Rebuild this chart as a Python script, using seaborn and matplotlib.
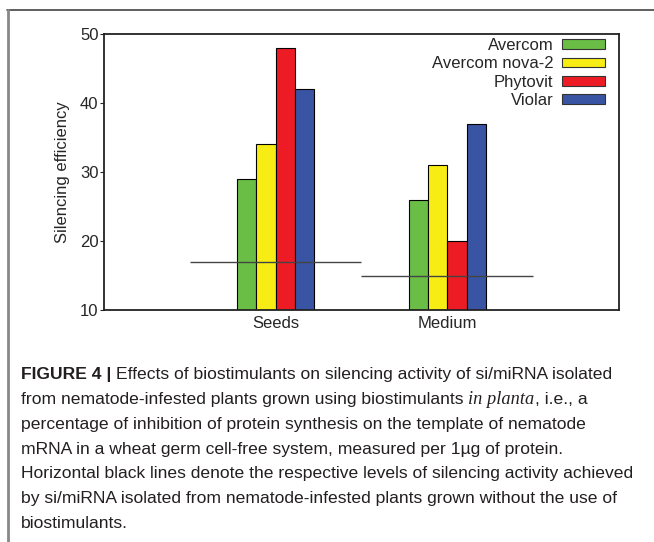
import pandas as pd
import matplotlib
matplotlib.use("Agg")
import matplotlib.pyplot as plt
import matplotlib.patches as mpatches
from matplotlib.lines import Line2D
import seaborn as sns

# data
groups = ["Seeds", "Medium"]
products = ["Avercom", "Avercom nova-2", "Phytovit", "Violar"]
avercom = [29, 26]
avercom_nova2 = [34, 31]
phytovit = [48, 20]
violar = [42, 37]
control_levels = [17, 15]   # silencing without biostimulants
colors = ["#6abd45", "#f7ec13", "#ed1c24", "#3a54a4"]

caption_lines = [
    [("FIGURE 4 | ", "bold"), ("Effects of biostimulants on silencing activity of si/miRNA isolated", "normal")],
    [("from nematode-infested plants grown using biostimulants ", "normal"), ("in planta", "italic"), (", i.e., a", "normal")],
    [("percentage of inhibition of protein synthesis on the template of nematode", "normal")],
    [("mRNA in a wheat germ cell-free system, measured per 1\u00b5g of protein.", "normal")],
    [("Horizontal black lines denote the respective levels of silencing activity achieved", "normal")],
    [("by si/miRNA isolated from nematode-infested plants grown without the use of", "normal")],
    [("biostimulants.", "normal")],
]

sns.set_style("white")
plt.rcParams["font.family"] = ["Liberation Sans", "DejaVu Sans"]

df = pd.DataFrame({
    "group": groups * 4,
    "product": [p for p in products for _ in groups],
    "value": avercom + avercom_nova2 + phytovit + violar,
})

fig = plt.figure(figsize=(6.54, 5.42), dpi=100)
ax = fig.add_axes([104 / 654, 1 - 310 / 542, 515 / 654, 276 / 542])

sns.barplot(data=df, x="group", y="value", hue="product", hue_order=products,
            order=groups, palette=colors, width=0.45, edgecolor="black",
            linewidth=0.8, saturation=1, legend=False, ax=ax)

# control levels as horizontal lines across each group
for i, lvl in enumerate(control_levels):
    ax.hlines(lvl, i - 0.5, i + 0.5, color="#444444", linewidth=1.0, zorder=5)

ax.set_xlim(-1, 2)
ax.set_ylim(10, 50)
ax.set_yticks([10, 20, 30, 40, 50])
ax.set_xlabel("")
ax.set_ylabel("Silencing efficiency", fontsize=12, labelpad=7)
ax.tick_params(axis="y", labelsize=12, length=3, direction="out", pad=1, left=True)
ax.tick_params(axis="x", labelsize=12, length=0, pad=4)
for s in ax.spines.values():
    s.set_visible(True)
    s.set_color("#222222")
    s.set_linewidth(1.3)

handles = [mpatches.Patch(facecolor=c, edgecolor="#333333", linewidth=0.8) for c in colors]
ax.legend(handles, products, loc="upper right", bbox_to_anchor=(1 - 9 / 515, 1 + 1 / 276),
          frameon=False, markerfirst=False,
          fontsize=12, handlelength=2.6, handleheight=0.5, handletextpad=0.5,
          labelspacing=0.2, borderaxespad=0.1, borderpad=0.2)

# outer frame of the figure panel
fig.add_artist(Line2D([7 / 654, 1], [1 - 10 / 542] * 2, transform=fig.transFigure,
                      color="#444444", linewidth=1.2))
fig.add_artist(Line2D([8 / 654] * 2, [1 - 10 / 542, 0], transform=fig.transFigure,
                      color="#888888", linewidth=2.0))

# caption, built piece by piece so bold / italic parts line up
fig.canvas.draw()
renderer = fig.canvas.get_renderer()
y0 = 375
for k, line in enumerate(caption_lines):
    x = 21
    y = 1 - (y0 + k * 24.7) / 542
    for txt, style in line:
        kw = dict(fontsize=12.6, color="#231f20", va="center", ha="left")
        if style == "bold":
            kw["fontweight"] = "bold"
        elif style == "italic":
            kw.update(fontstyle="italic", family="Liberation Serif", fontsize=13.2)
        t = fig.text(x / 654, y, txt, **kw)
        bb = t.get_window_extent(renderer)
        x = bb.x1

fig.savefig("out.png", dpi=100)
